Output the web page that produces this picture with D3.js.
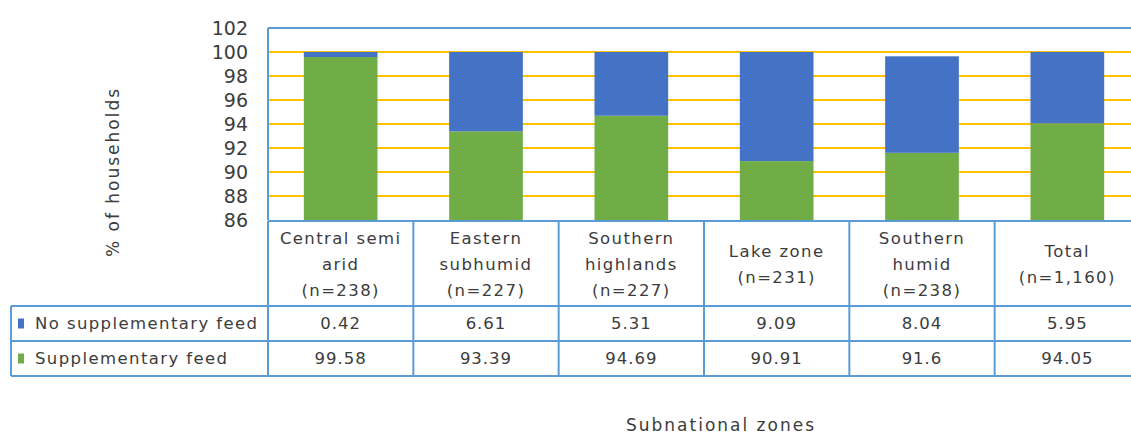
<!DOCTYPE html>
<html>
<head>
<meta charset="utf-8">
<script src="https://cdn.jsdelivr.net/npm/d3@7"></script>
<style>
  html, body { margin: 0; padding: 0; background: #fff; }
  svg { display: block; font-family: "DejaVu Sans", sans-serif; }
</style>
</head>
<body>
<svg id="chart" width="1131" height="435"></svg>
<script>
// Zones (header cell lines) and the two shares per zone
const zoneLabels = [
  ["Central semi", "arid", "(n=238)"],
  ["Eastern", "subhumid", "(n=227)"],
  ["Southern", "highlands", "(n=227)"],
  ["Lake zone", "(n=231)"],
  ["Southern", "humid", "(n=238)"],
  ["Total", "(n=1,160)"]
];
const noSupplementary = [0.42, 6.61, 5.31, 9.09, 8.04, 5.95];
const supplementary   = [99.58, 93.39, 94.69, 90.91, 91.6, 94.05];
const seriesNames = ["No supplementary feed", "Supplementary feed"];
const seriesColors = ["#4472C4", "#70AD47"];
const yTicks = [86, 88, 90, 92, 94, 96, 98, 100, 102];
const yLabel = "% of households";
const xLabel = "Subnational zones";

(function draw() {
  const svg = d3.select("#chart");
  const textColor = "#3c3c3c";
  const lineColor = "#5B9BD5";
  const cellFont = 16.5, cellSpacing = 1.4;

  const pLeft = 268, pRight = 1140, pTop = 28, pBottom = 220;
  const headBottom = 306, row1Bottom = 341, row2Bottom = 376, tableLeft = 11;

  const x = d3.scaleBand().domain(d3.range(zoneLabels.length)).range([pLeft, pRight]).padding(0);
  const y = d3.scaleLinear().domain([86, 102]).range([pBottom, pTop]);
  const barW = x.bandwidth() * 0.507;

  // Gridlines
  svg.append("g").selectAll("line")
    .data(yTicks.filter(v => v > 86 && v < 102))
    .join("line")
    .attr("x1", pLeft).attr("x2", pRight)
    .attr("y1", d => y(d)).attr("y2", d => y(d))
    .attr("stroke", "#FFC000").attr("stroke-width", 2);

  // Stacked bars: supplementary at the bottom, the rest on top
  const rows = zoneLabels.map((_, i) => ({ i, supp: supplementary[i], none: noSupplementary[i] }));
  const stack = d3.stack().keys(["supp", "none"])(rows);
  const keyColor = { supp: seriesColors[1], none: seriesColors[0] };

  svg.append("g").selectAll("g")
    .data(stack)
    .join("g")
    .attr("fill", d => keyColor[d.key])
    .selectAll("rect")
    .data(d => d)
    .join("rect")
    .attr("x", d => x(d.data.i) + (x.bandwidth() - barW) / 2)
    .attr("width", barW)
    .attr("y", d => y(Math.max(d[1], 86)))
    .attr("height", d => y(Math.max(d[0], 86)) - y(Math.max(d[1], 86)));

  // Y axis labels
  const yAxis = d3.axisLeft(y).tickValues(yTicks).tickSize(0).tickPadding(20);
  const ya = svg.append("g").attr("transform", `translate(${pLeft},0)`).call(yAxis);
  ya.select(".domain").remove();
  ya.selectAll("text")
    .attr("font-family", "DejaVu Sans, sans-serif")
    .attr("font-size", 19).attr("fill", textColor);

  // Plot frame (left and top)
  const frame = svg.append("g").attr("stroke", lineColor).attr("stroke-width", 2).attr("fill", "none");
  frame.append("line").attr("x1", pLeft).attr("x2", pRight).attr("y1", pTop).attr("y2", pTop);
  frame.append("line").attr("x1", pLeft).attr("x2", pLeft).attr("y1", pTop).attr("y2", pBottom);

  // Data table grid
  const grid = svg.append("g").attr("stroke", lineColor).attr("stroke-width", 2).attr("fill", "none");
  grid.append("line").attr("x1", pLeft).attr("x2", pRight).attr("y1", pBottom + 1).attr("y2", pBottom + 1);
  [headBottom, row1Bottom, row2Bottom].forEach(yy =>
    grid.append("line").attr("x1", tableLeft).attr("x2", pRight).attr("y1", yy).attr("y2", yy));
  grid.append("line").attr("x1", tableLeft).attr("x2", tableLeft).attr("y1", headBottom).attr("y2", row2Bottom);
  d3.range(zoneLabels.length + 1).forEach(i => {
    const xx = i < zoneLabels.length ? x(i) : pRight;
    grid.append("line").attr("x1", xx).attr("x2", xx).attr("y1", pBottom + 1).attr("y2", row2Bottom);
  });

  // Header cells
  const lineGap = 26;
  const headMid = (pBottom + headBottom) / 2 + 1;
  svg.append("g").selectAll("text")
    .data(zoneLabels)
    .join("text")
    .attr("text-anchor", "middle")
    .attr("font-size", cellFont).attr("letter-spacing", cellSpacing).attr("fill", textColor)
    .each(function (lines, i) {
      const t = d3.select(this);
      const y0 = headMid - (lines.length - 1) * lineGap / 2;
      lines.forEach((ln, k) => {
        t.append("tspan")
          .attr("x", x(i) + x.bandwidth() / 2)
          .attr("y", y0 + k * lineGap)
          .attr("dy", "0.35em")
          .text(ln);
      });
    });

  // Value rows with legend keys
  const tableRows = [noSupplementary, supplementary];
  const rowMids = [(headBottom + row1Bottom) / 2, (row1Bottom + row2Bottom) / 2];
  tableRows.forEach((vals, r) => {
    const g = svg.append("g");
    g.append("rect")
      .attr("x", 18).attr("y", rowMids[r] - 5).attr("width", 6).attr("height", 10)
      .attr("fill", seriesColors[r]);
    g.append("text")
      .attr("x", 35).attr("y", rowMids[r]).attr("dy", "0.35em")
      .attr("font-size", cellFont).attr("letter-spacing", cellSpacing).attr("fill", textColor)
      .text(seriesNames[r]);
    g.selectAll("text.v")
      .data(vals)
      .join("text")
      .attr("class", "v")
      .attr("x", (d, i) => x(i) + x.bandwidth() / 2)
      .attr("y", rowMids[r]).attr("dy", "0.35em")
      .attr("text-anchor", "middle")
      .attr("font-size", cellFont).attr("letter-spacing", 1).attr("fill", textColor)
      .text(d => d);
  });

  // Axis titles
  svg.append("text")
    .attr("transform", `translate(113,172) rotate(-90)`)
    .attr("text-anchor", "middle").attr("dy", "0.35em")
    .attr("font-size", 17).attr("letter-spacing", 2).attr("fill", textColor)
    .text(yLabel);

  svg.append("text")
    .attr("x", 721).attr("y", 425).attr("dy", "0.35em")
    .attr("text-anchor", "middle")
    .attr("font-size", 17).attr("letter-spacing", 2).attr("fill", textColor)
    .text(xLabel);
})();
</script>
</body>
</html>
